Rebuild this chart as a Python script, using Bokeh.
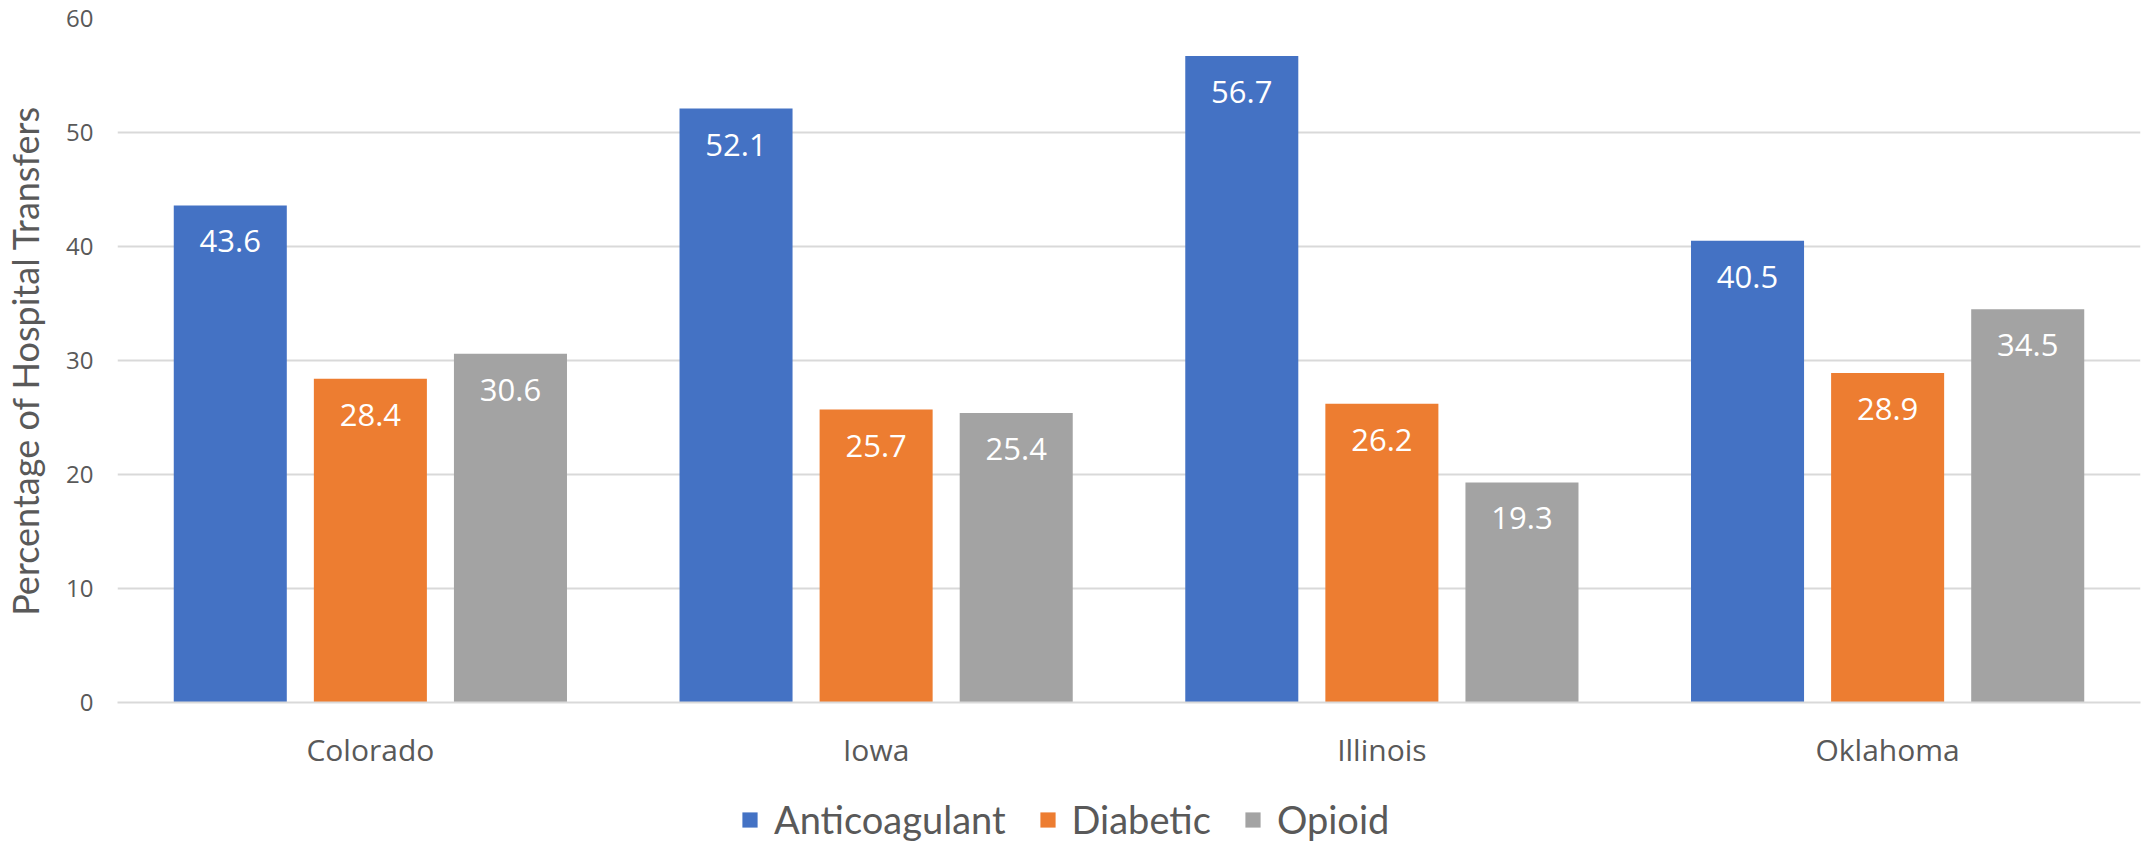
from bokeh.plotting import figure
from bokeh.layouts import column
from bokeh.models import (ColumnDataSource, FactorRange, Range1d, Legend, LegendItem,
                          LabelSet, FixedTicker)
from bokeh.transform import dodge
from bokeh.core.properties import value
from bokeh.embed import file_html
from bokeh.resources import INLINE

# ---- data ----
states = ["Colorado", "Iowa", "Illinois", "Oklahoma"]
series_names = ["Anticoagulant", "Diabetic", "Opioid"]
anticoagulant = [43.6, 52.1, 56.7, 40.5]
diabetic = [28.4, 25.7, 26.2, 28.9]
opioid = [30.6, 25.4, 19.3, 34.5]
y_ticks = [0, 10, 20, 30, 40, 50, 60]
y_title = "Percentage of Hospital Transfers"

colors = ["#4472C4", "#ED7D31", "#A3A3A3"]
offsets = [-0.277, 0.0, 0.277]
bar_w = 0.2235

p = figure(x_range=FactorRange(*states, range_padding=0), y_range=Range1d(0, 60),
           width=2154, height=774, output_backend="svg", toolbar_location=None,
           min_border_left=117, min_border_right=14, min_border_top=18,
           min_border_bottom=72)
p.outline_line_color = None
p.background_fill_color = "white"
p.border_fill_color = "white"

p.xgrid.grid_line_color = None
p.ygrid.grid_line_color = "#D9D9D9"
p.ygrid.grid_line_width = 2

p.yaxis.ticker = FixedTicker(ticks=y_ticks)
p.yaxis.axis_line_color = None
p.yaxis.major_tick_line_color = None
p.yaxis.minor_tick_line_color = None
p.yaxis.major_tick_out = 0
p.yaxis.major_label_standoff = 24
p.yaxis.major_label_text_font = "Open Sans"
p.yaxis.major_label_text_font_size = "24px"
p.yaxis.major_label_text_color = "#595959"
p.yaxis.axis_label = y_title
p.yaxis.axis_label_text_font = "Lato"
p.yaxis.axis_label_text_font_size = "36px"
p.yaxis.axis_label_text_font_style = "normal"
p.yaxis.axis_label_text_color = "#595959"
p.yaxis.axis_label_standoff = 16

p.xaxis.axis_line_color = "#D9D9D9"
p.xaxis.axis_line_width = 2
p.xaxis.major_tick_line_color = None
p.xaxis.minor_tick_line_color = None
p.xaxis.major_tick_out = 0
p.xaxis.major_label_standoff = 26
p.xaxis.major_label_text_font = "Open Sans"
p.xaxis.major_label_text_font_size = "30px"
p.xaxis.major_label_text_color = "#595959"

for name, vals, col, off in zip(series_names, [anticoagulant, diabetic, opioid], colors, offsets):
    src = ColumnDataSource(dict(state=states, val=vals, label=[f"{v:.1f}" for v in vals]))
    p.vbar(x=dodge("state", off, range=p.x_range), top="val", width=bar_w, source=src,
           fill_color=col, line_color=None)
    labels = LabelSet(x=dodge("state", off, range=p.x_range), y="val", text="label", source=src,
                      text_align="center", text_baseline="middle", y_offset=-36,
                      text_color="white", text_font=value("Open Sans"),
                      text_font_size="31px")
    p.add_layout(labels)

# ---- legend strip below the chart ----
lg = figure(width=2154, height=68, output_backend="svg", toolbar_location=None,
            x_range=Range1d(0, 1), y_range=Range1d(0, 1),
            x_axis_type=None, y_axis_type=None, min_border=0)
lg.outline_line_color = None
lg.xgrid.visible = False
lg.ygrid.visible = False
items = []
for name, col in zip(series_names, colors):
    # zero-size swatch carriers: only their legend glyph is visible
    r = lg.vbar(x=[0.5], top=[0], bottom=[0], width=0, fill_color=col, line_color=None)
    items.append(LegendItem(label=name, renderers=[r]))

legend = Legend(items=items, orientation="horizontal", location=(623, 0))
legend.glyph_width = 19
legend.glyph_height = 19
legend.label_standoff = 15
legend.spacing = 32
legend.padding = 0
legend.margin = 0
legend.border_line_color = None
legend.background_fill_alpha = 0
legend.label_text_font = "Lato"
legend.label_text_font_size = "38px"
legend.label_text_color = "#595959"
lg.add_layout(legend, "center")

layout = column(p, lg, spacing=0)
open("out.html", "w").write(file_html(layout, INLINE))
